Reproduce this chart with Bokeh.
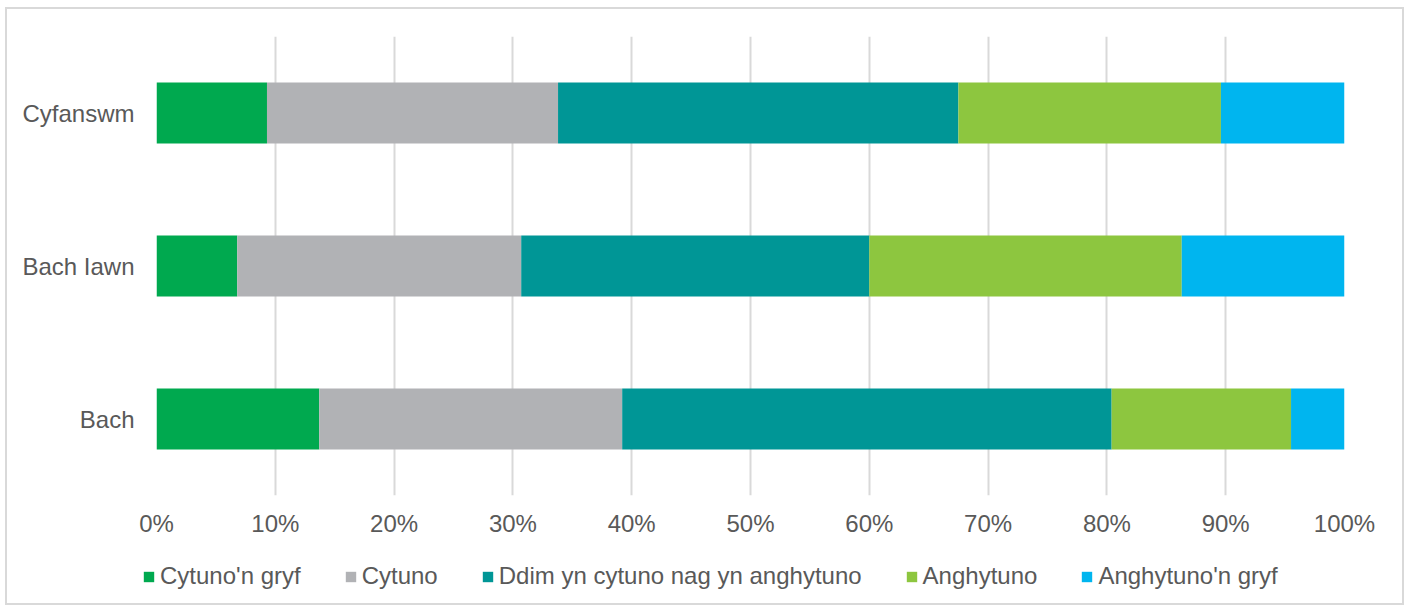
from bokeh.plotting import figure
from bokeh.models import ColumnDataSource, Range1d, FactorRange, FixedTicker, PrintfTickFormatter, Legend, LegendItem
from bokeh.layouts import column, row
from bokeh.embed import file_html
from bokeh.resources import INLINE

categories = ["Bach", "Bach Iawn", "Cyfanswm"]
series_names = ["Cytuno'n gryf", "Cytuno", "Ddim yn cytuno nag yn anghytuno", "Anghytuno", "Anghytuno'n gryf"]
cytuno_gryf = [13.7, 6.8, 9.3]
cytuno = [25.5, 23.9, 24.5]
ddim = [41.2, 29.3, 33.7]
anghytuno = [15.1, 26.3, 22.1]
anghytuno_gryf = [4.5, 13.7, 10.4]
colors = ["#00A94F", "#B1B2B5", "#009696", "#8DC63F", "#00B5EF"]
tick_values = [0, 10, 20, 30, 40, 50, 60, 70, 80, 90, 100]

data = {"cat": categories}
keys = ["s0", "s1", "s2", "s3", "s4"]
for k, v in zip(keys, [cytuno_gryf, cytuno, ddim, anghytuno, anghytuno_gryf]):
    data[k] = v
source = ColumnDataSource(data)

p = figure(width=1395, height=534, y_range=FactorRange(*categories, range_padding=0),
           x_range=Range1d(0, 100), output_backend="svg", toolbar_location=None,
           min_border_left=149, min_border_right=58, min_border_top=27, min_border_bottom=48)

p.hbar_stack(keys, y="cat", height=0.4, color=colors, source=source, line_color=None)

p.outline_line_color = None
p.xaxis.ticker = FixedTicker(ticks=tick_values)
p.xaxis.formatter = PrintfTickFormatter(format="%d%%")
for ax in [p.xaxis[0], p.yaxis[0]]:
    ax.axis_line_color = None
    ax.major_tick_line_color = None
    ax.minor_tick_line_color = None
    ax.major_label_text_font = "Liberation Sans"
    ax.major_label_text_font_size = "24px"
    ax.major_label_text_color = "#595959"
p.xaxis.major_label_standoff = 8
p.yaxis.major_label_standoff = 16
p.xgrid.grid_line_color = "#d9d9d9"
p.xgrid.grid_line_width = 2
p.ygrid.grid_line_color = None

# legend strip below the chart (its range shows none of the bars, only the legend)
lp = figure(width=1395, height=60, x_range=Range1d(200, 300),
            y_range=FactorRange("legend"),
            output_backend="svg", toolbar_location=None,
            x_axis_location=None, y_axis_location=None,
            min_border_left=0, min_border_right=0, min_border_top=0, min_border_bottom=0)
lp.outline_line_color = None
lp.xgrid.grid_line_color = None
lp.ygrid.grid_line_color = None
legend_renderers = lp.hbar_stack(keys, y="cat", height=0.4, color=colors, source=source, line_color=None)
items = [LegendItem(label=n, renderers=[r]) for n, r in zip(series_names, legend_renderers)]
legend = Legend(items=items, orientation="horizontal", location=(135, 13),
                glyph_width=13, glyph_height=13, label_standoff=5, spacing=43,
                padding=0, margin=0, border_line_color=None, background_fill_alpha=0,
                label_text_font="Liberation Sans", label_text_font_size="24px",
                label_text_color="#595959")
lp.add_layout(legend, "center")

layout = column(p, row(lp), spacing=0)
layout.styles = {"border": "2px solid #d9d9d9", "box-sizing": "border-box",
                 "margin-left": "5px", "margin-top": "7px"}

open("out.html", "w").write(file_html(layout, INLINE))
